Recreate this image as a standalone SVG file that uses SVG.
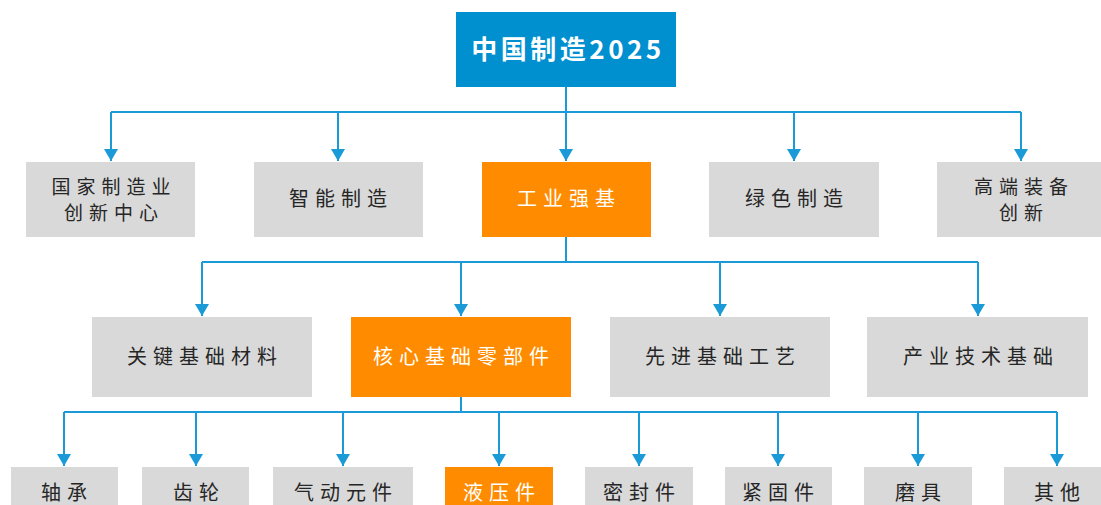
<svg xmlns="http://www.w3.org/2000/svg" width="1101" height="505" viewBox="0 0 1101 505">
<style>
.grey{fill:#D9D9D9}
.orange{fill:#FF8C00}
.blue{fill:#0090D0}
.t{font-family:"Noto Sans CJK SC","Liberation Sans",sans-serif;font-size:20px;letter-spacing:6px;text-anchor:middle;fill:#262626}
.t2{font-size:19px}
.w{fill:#FFFFFF}
.title{font-family:"Noto Sans CJK SC","Liberation Sans",sans-serif;font-size:26px;font-weight:bold;letter-spacing:3.5px;text-anchor:middle;fill:#FFFFFF}
.c{fill:none;stroke:#1A9AD6;stroke-width:2}
.a{marker-end:url(#arr)}
</style>
<defs>
<marker id="arr" viewBox="0 0 12 14" refX="12" refY="7" markerWidth="12" markerHeight="14" markerUnits="userSpaceOnUse" orient="auto">
<path d="M0,0 L12,7 L0,14 z" fill="#1A9AD6"/>
</marker>
</defs>
<g id="connectors">
<path class="c" d="M566,87 V112 M111,112 H1021"/>
<path class="c a" d="M111,112 V161"/>
<path class="c a" d="M338,112 V161"/>
<path class="c a" d="M566,112 V161"/>
<path class="c a" d="M794,112 V161"/>
<path class="c a" d="M1021,112 V161"/>
<path class="c" d="M566,237 V262 M202,262 H978"/>
<path class="c a" d="M202,262 V316"/>
<path class="c a" d="M461,262 V316"/>
<path class="c a" d="M720,262 V316"/>
<path class="c a" d="M978,262 V316"/>
<path class="c" d="M461,397 V412 M64,412 H1057"/>
<path class="c a" d="M64,412 V466"/>
<path class="c a" d="M196,412 V466"/>
<path class="c a" d="M343,412 V466"/>
<path class="c a" d="M499,412 V466"/>
<path class="c a" d="M639,412 V466"/>
<path class="c a" d="M778,412 V466"/>
<path class="c a" d="M918,412 V466"/>
<path class="c a" d="M1057,412 V466"/>
</g>
<g id="n-root"><rect class="blue" x="456" y="12" width="220" height="75"/><text class="title" x="568" y="59">中国制造2025</text></g>
<g id="n-gjzzy"><rect class="grey" x="26" y="162" width="169" height="75"/><text class="t t2" x="114" y="194">国家制造业</text><text class="t t2" x="114" y="220">创新中心</text></g>
<g id="n-znzz"><rect class="grey" x="254" y="162" width="169" height="75"/><text class="t" x="341" y="206">智能制造</text></g>
<g id="n-gyqj"><rect class="orange" x="482" y="162" width="169" height="75"/><text class="t w" x="569" y="206">工业强基</text></g>
<g id="n-lszz"><rect class="grey" x="709" y="162" width="170" height="75"/><text class="t" x="797" y="206">绿色制造</text></g>
<g id="n-gdzb"><rect class="grey" x="937" y="162" width="169" height="75"/><text class="t t2" x="1024" y="194">高端装备</text><text class="t t2" x="1024" y="220">创新</text></g>
<g id="n-gjjccl"><rect class="grey" x="92" y="317" width="220" height="80"/><text class="t" x="205" y="364">关键基础材料</text></g>
<g id="n-hxjclbj"><rect class="orange" x="351" y="317" width="220" height="80"/><text class="t w" x="464" y="364">核心基础零部件</text></g>
<g id="n-xjjcgy"><rect class="grey" x="610" y="317" width="220" height="80"/><text class="t" x="723" y="364">先进基础工艺</text></g>
<g id="n-cyjsjc"><rect class="grey" x="867" y="317" width="221" height="80"/><text class="t" x="981" y="364">产业技术基础</text></g>
<g id="n-zc"><rect class="grey" x="11" y="467" width="107" height="45"/><text class="t" x="67" y="500">轴承</text></g>
<g id="n-cl"><rect class="grey" x="142" y="467" width="107" height="45"/><text class="t" x="199" y="500">齿轮</text></g>
<g id="n-qdyj"><rect class="grey" x="273" y="467" width="140" height="45"/><text class="t" x="346" y="500">气动元件</text></g>
<g id="n-yyj"><rect class="orange" x="445" y="467" width="108" height="45"/><text class="t w" x="502" y="500">液压件</text></g>
<g id="n-mfj"><rect class="grey" x="585" y="467" width="108" height="45"/><text class="t" x="642" y="500">密封件</text></g>
<g id="n-jgj"><rect class="grey" x="725" y="467" width="107" height="45"/><text class="t" x="781" y="500">紧固件</text></g>
<g id="n-mj"><rect class="grey" x="864" y="467" width="108" height="45"/><text class="t" x="921" y="500">磨具</text></g>
<g id="n-qt"><rect class="grey" x="1004" y="467" width="107" height="45"/><text class="t" x="1060" y="500">其他</text></g>
</svg>
